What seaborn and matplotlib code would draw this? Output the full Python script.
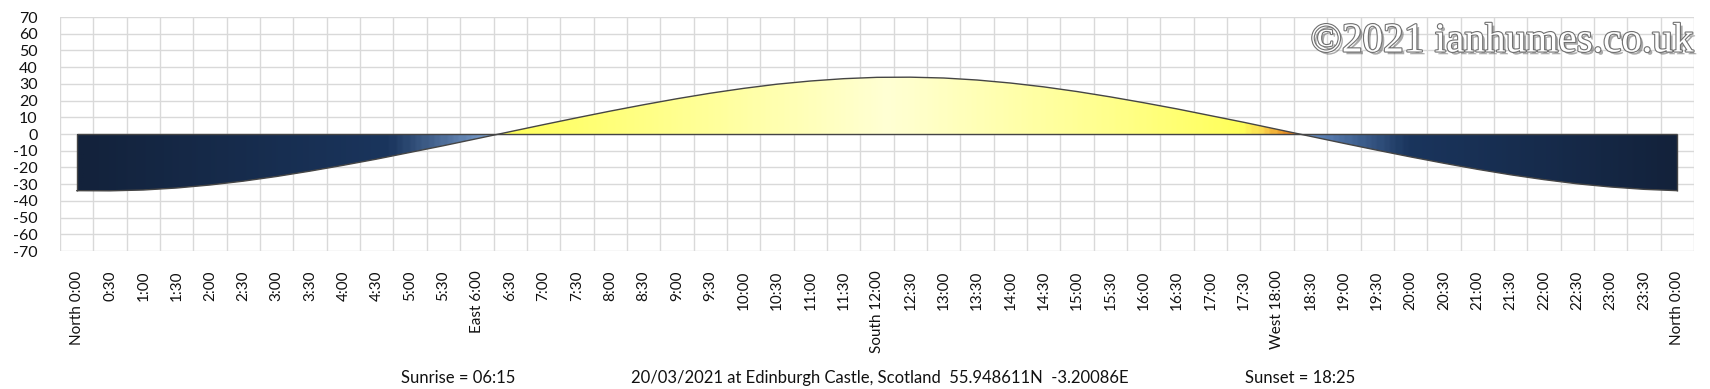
import numpy as np
import matplotlib
matplotlib.use("Agg")
import matplotlib.pyplot as plt
import matplotlib.patheffects as pe
from matplotlib.colors import LinearSegmentedColormap
from matplotlib.patches import Polygon
import seaborn as sns

# half-hourly sun elevation (degrees), Edinburgh Castle 20/03/2021
time_labels = [
    "North 0:00", "0:30", "1:00", "1:30", "2:00", "2:30", "3:00", "3:30",
    "4:00", "4:30", "5:00", "5:30", "East 6:00", "6:30", "7:00", "7:30",
    "8:00", "8:30", "9:00", "9:30", "10:00", "10:30", "11:00", "11:30",
    "South 12:00", "12:30", "13:00", "13:30", "14:00", "14:30", "15:00", "15:30",
    "16:00", "16:30", "17:00", "17:30", "West 18:00", "18:30", "19:00", "19:30",
    "20:00", "20:30", "21:00", "21:30", "22:00", "22:30", "23:00", "23:30",
    "North 0:00",
]
elevation = [
    -33.9, -34.0, -33.5, -32.3, -30.5, -28.2, -25.4, -22.2,
    -18.7, -15.0, -11.0, -7.0, -2.8, 1.4, 5.6, 9.7,
    13.7, 17.5, 21.1, 24.4, 27.3, 29.8, 31.7, 33.1,
    33.9, 34.0, 33.5, 32.3, 30.5, 28.2, 25.4, 22.2,
    18.7, 15.0, 11.0, 7.0, 2.8, -1.4, -5.6, -9.7,
    -13.7, -17.5, -21.1, -24.4, -27.3, -29.8, -31.7, -33.1,
    -33.9,
]
y_ticks = list(range(-70, 71, 10))

sunrise_text = "Sunrise = 06:15"
place_text = "20/03/2021 at Edinburgh Castle, Scotland  55.948611N  -3.20086E"
sunset_text = "Sunset = 18:25"
watermark = "\u00a92021 ianhumes.co.uk"

sns.set_style("white")
plt.rcParams["font.family"] = ["Lato", "DejaVu Sans"]
plt.rcParams["axes.unicode_minus"] = False

W, H = 1710, 389
fig = plt.figure(figsize=(W / 100, H / 100), dpi=100)
ax = fig.add_axes([60 / W, 1 - 251 / H, (1694 - 60) / W, (251 - 17) / H])

x = np.arange(len(elevation), dtype=float)
y = np.array(elevation, dtype=float)

# put the horizon crossings in so day and night areas meet on the axis
xs, ys = [x[0]], [y[0]]
for i in range(1, len(y)):
    if y[i - 1] * y[i] < 0:
        f = y[i - 1] / (y[i - 1] - y[i])
        xs.append(x[i - 1] + f)
        ys.append(0.0)
    xs.append(x[i])
    ys.append(y[i])
xs = np.array(xs)
ys = np.array(ys)
last = x[-1]

night_cmap = LinearSegmentedColormap.from_list("night", [
    (0, "#13223B"), (9.3 / last, "#1A355D"), (12.7 / last, "#88ADDE"),
    (36.6 / last, "#6E96CE"), (40 / last, "#1A355D"), (1, "#13223B")])
day_cmap = LinearSegmentedColormap.from_list("day", [
    (0, "#FFFF55"), (12.7 / last, "#FFFF58"), (18 / last, "#FFFF90"),
    (24.3 / last, "#FFFFD4"), (31 / last, "#FFFF8C"), (35 / last, "#FFFF5A"),
    (35.6 / last, "#FAD850"), (36.2 / last, "#EE9A2A"), (36.7 / last, "#DE6E14"),
    (1, "#DE6E14")])

grad = np.linspace(0, 1, 600)[np.newaxis, :]
for cmap, part in [(night_cmap, np.minimum(ys, 0)), (day_cmap, np.maximum(ys, 0))]:
    verts = list(zip(xs, part)) + [(xs[-1], 0), (xs[0], 0)]
    patch = Polygon(verts, closed=True, transform=ax.transData,
                    facecolor="none", edgecolor="none")
    ax.add_patch(patch)
    im = ax.imshow(grad, cmap=cmap, extent=[0, last, -40, 40], aspect="auto",
                   origin="lower", interpolation="bilinear", zorder=2)
    im.set_clip_path(patch)

sns.lineplot(x=xs, y=ys, ax=ax, color="#454545", linewidth=1.0, zorder=3)
ax.hlines(0, 0, last, color="#454545", linewidth=1.0, zorder=3)
ax.vlines([0, last], [y[0], y[-1]], 0, color="#454545", linewidth=1.0, zorder=3)

ax.set_xlim(-0.5, last + 0.5)
ax.set_ylim(-70, 70)
ax.set_xticks(x)
ax.set_xticklabels(time_labels, rotation=90, fontsize=11, color="#111111")
ax.set_xticks(np.arange(-0.5, last + 1, 1), minor=True)
ax.set_yticks(y_ticks)
ax.set_yticklabels([str(v) for v in y_ticks], fontsize=11.5, color="#111111")
ax.tick_params(axis="both", which="both", length=0)
ax.tick_params(axis="x", pad=14)
ax.tick_params(axis="y", pad=16)
ax.grid(axis="y", which="major", color="#D9D9D9", linewidth=1)
ax.grid(axis="x", which="minor", color="#D9D9D9", linewidth=1)
ax.grid(axis="x", which="major", visible=False)
ax.set_axisbelow(True)
for s in ax.spines.values():
    s.set_visible(False)

fig.text(458 / W, 1 - 378 / H, sunrise_text, ha="center", va="center", fontsize=12, color="#111111")
fig.text(880 / W, 1 - 378 / H, place_text, ha="center", va="center", fontsize=12, color="#111111")
fig.text(1300 / W, 1 - 378 / H, sunset_text, ha="center", va="center", fontsize=12, color="#111111")

fig.text(1694 / W, 1 - 42 / H, watermark, ha="right", va="center", fontsize=29.7,
         family="Liberation Serif", color="white",
         path_effects=[pe.SimplePatchShadow(offset=(2, -2), shadow_rgbFace="#444444", alpha=0.45),
                       pe.Stroke(linewidth=1.6, foreground="#707070"),
                       pe.Normal()])

fig.savefig("out.png", dpi=100)
